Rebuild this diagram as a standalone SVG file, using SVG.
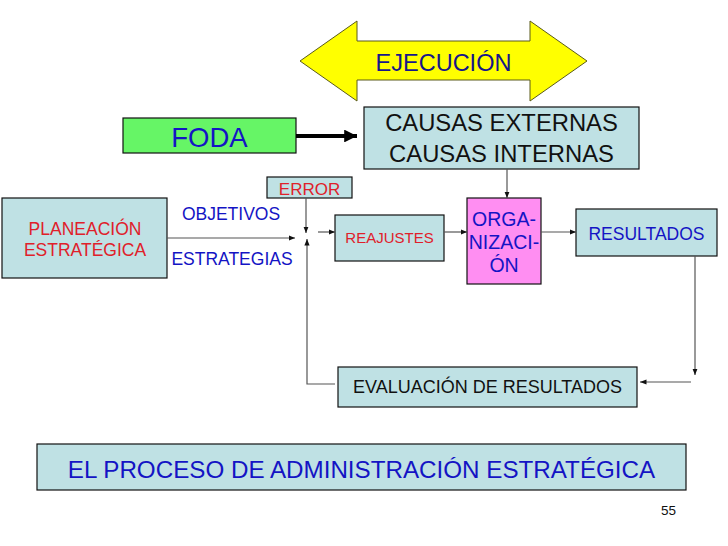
<svg xmlns="http://www.w3.org/2000/svg" width="728" height="546" viewBox="0 0 728 546">
<style>
text{font-family:"Liberation Sans",Arial,sans-serif;text-anchor:middle}
.box{fill:#BFE1E4;stroke:#111;stroke-width:1.2}
.blue{fill:#1414C4}
.red{fill:#E0202A}
.dark{fill:#111}
.ln{fill:none;stroke:#555;stroke-width:1.2}
</style>
<defs>
<marker id="ah" viewBox="0 0 10 10" refX="10" refY="5" markerWidth="6.5" markerHeight="6.5" markerUnits="userSpaceOnUse" orient="auto">
<path d="M0,1 L10,5 L0,9 Z" fill="#111"/>
</marker>
<marker id="ahb" viewBox="0 0 10 10" refX="10" refY="5" markerWidth="3.2" markerHeight="3.2" orient="auto">
<path d="M0,0 L10,5 L0,10 Z" fill="#000"/>
</marker>
</defs>
<rect width="728" height="546" fill="#fff"/>

<g id="ejecucion">
<polygon points="300,61 357,21 357,41 530,41 530,21 587,61 530,101 530,80 357,80 357,101" fill="#FFFF00" stroke="#5a5a1a" stroke-width="1"/>
<text x="443.5" y="71" font-size="23.5" fill="#16168A">EJECUCIÓN</text>
</g>

<g id="foda">
<rect x="123" y="118" width="173" height="35" fill="#66F566" stroke="#111" stroke-width="1.2"/>
<text x="209.5" y="147" font-size="27.5" class="blue">FODA</text>
</g>

<g id="causas">
<rect class="box" x="364" y="107" width="275" height="62"/>
<text x="501.5" y="131" font-size="23.8" class="dark">CAUSAS EXTERNAS</text>
<text x="501.5" y="162" font-size="23.8" class="dark">CAUSAS INTERNAS</text>
</g>

<g id="error">
<rect class="box" x="267" y="177" width="85" height="21"/>
<text x="309.5" y="195" font-size="17" class="red">ERROR</text>
</g>

<g id="planeacion">
<rect class="box" x="2" y="198" width="165" height="80"/>
<text x="85" y="235" font-size="17.5" class="red">PLANEACIÓN</text>
<text x="85" y="256" font-size="17.5" class="red">ESTRATÉGICA</text>
</g>

<g id="labels">
<text x="231" y="220" font-size="17.5" class="blue">OBJETIVOS</text>
<text x="232" y="265" font-size="17.5" class="blue">ESTRATEGIAS</text>
</g>

<g id="reajustes">
<rect class="box" x="335" y="215" width="109" height="46"/>
<text x="389.5" y="243" font-size="15" class="red">REAJUSTES</text>
</g>

<g id="organizacion">
<rect x="467" y="198" width="74" height="86" fill="#FF8EF2" stroke="#111" stroke-width="1.2"/>
<text x="504" y="226" font-size="19.5" class="blue">ORGA-</text>
<text x="504" y="249" font-size="19.5" class="blue">NIZACI-</text>
<text x="504" y="272" font-size="19.5" class="blue">ÓN</text>
</g>

<g id="resultados">
<rect class="box" x="576" y="209" width="141" height="47"/>
<text x="646.5" y="240" font-size="17.5" class="blue">RESULTADOS</text>
</g>

<g id="evaluacion">
<rect class="box" x="338" y="367" width="299" height="40"/>
<text x="487.5" y="393" font-size="18" class="dark">EVALUACIÓN DE RESULTADOS</text>
</g>

<g id="titulo">
<rect class="box" x="37" y="444" width="649" height="46"/>
<text x="361.5" y="478" font-size="24.2" class="blue">EL PROCESO DE ADMINISTRACIÓN ESTRATÉGICA</text>
</g>

<g id="pagina">
<text x="668.5" y="515" font-size="13.5" class="dark">55</text>
</g>

<g id="connectors">
<line x1="296" y1="136" x2="357" y2="136" stroke="#000" stroke-width="4" marker-end="url(#ahb)"/>
<line class="ln" x1="306" y1="198" x2="306" y2="233" marker-end="url(#ah)"/>
<line class="ln" x1="167" y1="238" x2="295" y2="238" marker-end="url(#ah)"/>
<line class="ln" x1="318" y1="232" x2="335" y2="232" marker-end="url(#ah)"/>
<line class="ln" x1="507" y1="169" x2="507" y2="198" marker-end="url(#ah)"/>
<line class="ln" x1="444" y1="232" x2="467" y2="232" marker-end="url(#ah)"/>
<line class="ln" x1="541" y1="232" x2="576" y2="232" marker-end="url(#ah)"/>
<line class="ln" x1="695" y1="256" x2="695" y2="375" marker-end="url(#ah)"/>
<line class="ln" x1="691" y1="382" x2="640" y2="382" marker-end="url(#ah)"/>
<polyline class="ln" points="335,384 307,384 307,239" marker-end="url(#ah)"/>
</g>
</svg>
